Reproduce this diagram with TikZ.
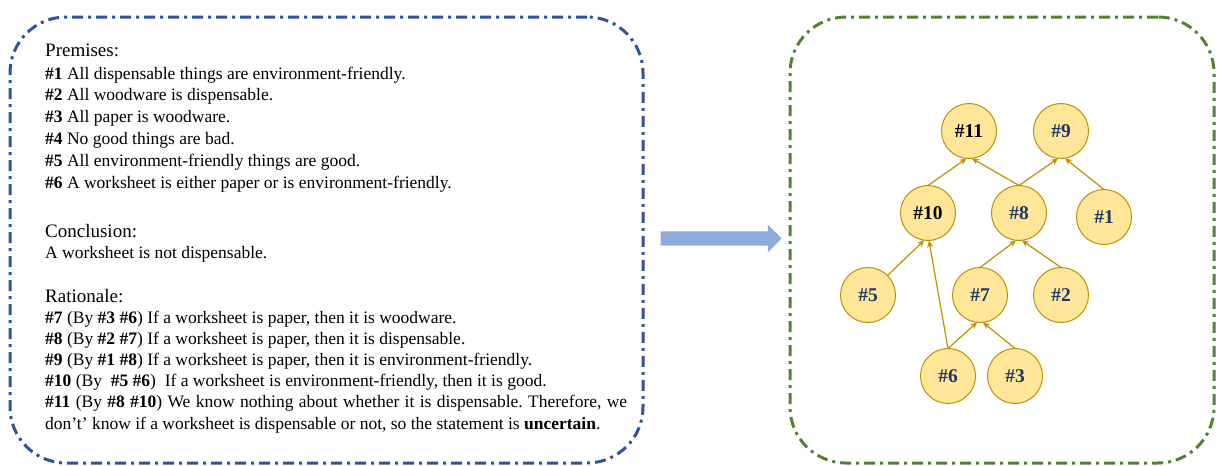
\documentclass[tikz,border=0pt]{standalone}
\usepackage{fontspec}
\setmainfont{Liberation Serif}
\usepackage{tikz}
\usepackage{tkz-graph}
\usetikzlibrary{shapes,arrows,arrows.meta}
\frenchspacing
\definecolor{boxblue}{HTML}{2F5597}
\definecolor{boxgreen}{HTML}{548235}
\definecolor{flowblue}{HTML}{8FAADC}
\definecolor{factfill}{HTML}{FFE699}
\definecolor{factline}{HTML}{BF9000}
\definecolor{factnavy}{HTML}{203864}
\newcommand{\factlabel}[1]{\textcolor{factnavy}{\#{#1}}}
\tikzset{
  outerbox/.style = {line width=3pt, rounded corners=56pt,
                     dash pattern=on 11pt off 5pt on 3pt off 5pt,
                     minimum width=633pt, minimum height=446pt},
  headtext/.style = {anchor=base west, inner sep=0pt,
                     font=\fontsize{19}{23}\selectfont},
  bodytext/.style = {anchor=base west, inner sep=0pt, align=left,
                     font=\fontsize{17.5}{21.6}\selectfont}
}

\begin{document}
\begin{tikzpicture}[x=1pt,y=-1pt]
	\useasboundingbox (0,0) rectangle (1219,466);
	% the two frames and the arrow between them
	\node (textbox) [outerbox, draw=boxblue] at (326.5,240) {};
	\node (graphbox) [outerbox, draw=boxgreen, minimum width=424pt] at (1002,240) {};
	\node (flow) [single arrow, fill=flowblue, inner sep=7pt, minimum height=121pt,
	              single arrow head extend=6.5pt] at (717.5,238.5) {};
	% left frame: the text (base = last line)
	\node (premhead) [headtext] at (45,56) {Premises:};
	\node (premises) [bodytext, font=\fontsize{17.5}{21.8}\selectfont] at (45,188) {%
		\textbf{\#1} All dispensable things are environment-friendly.\\
		\textbf{\#2} All woodware is dispensable.\\
		\textbf{\#3} All paper is woodware.\\
		\textbf{\#4} No good things are bad.\\
		\textbf{\#5} All environment-friendly things are good.\\
		\textbf{\#6} A worksheet is either paper or is environment-friendly.};
	\node (conchead) [headtext] at (45,237) {Conclusion:};
	\node (conclusion) [bodytext] at (45,258) {A worksheet is not dispensable.};
	\node (ratihead) [headtext] at (45,302) {Rationale:};
	\node (rationale) [bodytext, font=\fontsize{17.5}{21.2}\selectfont] at (45,429) {%
		\textbf{\#7} (By \textbf{\#3 \#6}) If a worksheet is paper, then it is woodware.\\
		\textbf{\#8} (By \textbf{\#2 \#7}) If a worksheet is paper, then it is dispensable.\\
		\textbf{\#9} (By \textbf{\#1 \#8}) If a worksheet is paper, then it is environment-friendly.\\
		\textbf{\#10} (By~ \textbf{\#5 \#6})~ If a worksheet is environment-friendly, then it is good.\\
		\makebox[582pt][s]{\textbf{\#11} (By \textbf{\#8 \#10}) We know nothing about whether it is dispensable. Therefore, we}\\
		don't' know if a worksheet is dispensable or not, so the statement is \textbf{uncertain}.};
	% right frame: the graph
	\SetVertexNormal[Shape      = circle,
	                 FillColor  = factfill,
	                 LineColor  = factline,
	                 LineWidth  = 1pt,
	                 MinSize    = 55pt]
	\tikzset{VertexStyle/.append style={inner sep=0pt, font=\bfseries\fontsize{19.5}{20}\selectfont}}
	\Vertex[x=969,y=131,L={\#11}]{n11}
	\Vertex[x=1061,y=131,L={\factlabel{9}}]{n9}
	\Vertex[x=928,y=213,L={\#10}]{n10}
	\Vertex[x=1019,y=213,L={\factlabel{8}}]{n8}
	\Vertex[x=1104,y=217,L={\factlabel{1}}]{n1}
	\Vertex[x=868,y=295,L={\factlabel{5}}]{n5}
	\Vertex[x=980,y=295,L={\factlabel{7}}]{n7}
	\Vertex[x=1061,y=295,L={\factlabel{2}}]{n2}
	\Vertex[x=948,y=376,L={\factlabel{6}}]{n6}
	\Vertex[x=1015,y=376,L={\factlabel{3}}]{n3}
	\tikzstyle{EdgeStyle}=[-{Stealth[length=7pt,width=6pt]}, draw=factline, line width=1.2pt]
	\Edge(n10.north)(n11.265)
	\Edge(n8.north)(n11.276)
	\Edge(n8.north)(n9.264)
	\Edge(n1.north)(n9.278)
	\Edge(n5.45)(n10.262)
	\Edge(n6.north)(n10.272)
	\Edge(n7.north)(n8.264)
	\Edge(n2.north)(n8.276)
	\Edge(n6.north)(n7.264)
	\Edge(n3.north)(n7.276)
\end{tikzpicture}
\end{document}
